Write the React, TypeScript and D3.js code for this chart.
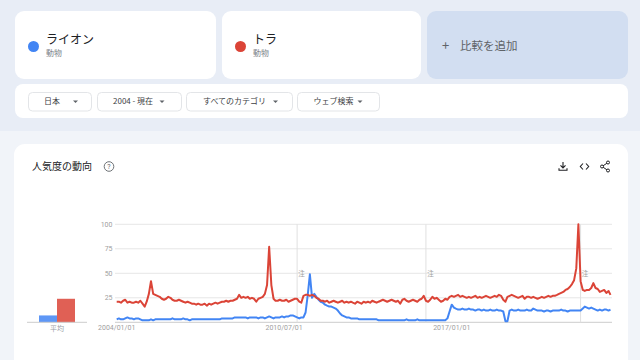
import React from 'react';
import * as d3 from 'd3';

// ---------- data ----------
const termNames = ['ライオン', 'トラ'];
const termCategory = ['動物', '動物'];
const seriesColors = ['#4285f4', '#db4437'];
const filterLabels = ['日本', '2004 - 現在', 'すべてのカテゴリ', 'ウェブ検索'];
const addLabel = '比較を追加';
const titleLabel = '人気度の動向';
const avgLabel = '平均';
const noteLabel = '注';
const yTickValues = [25, 50, 75, 100];
const xTickDates = ['2004-01-01', '2010-07-01', '2017-01-01'];
const xTickLabels = ['2004/01/01', '2010/07/01', '2017/01/01'];
const noteDates = ['2011-01-01', '2016-01-01', '2022-01-01'];
const startDate = '2004-01-01';

// monthly values, 2004-01 .. 2023-03
const lionValues = [
  3, 4, 3, 3, 4, 5, 4, 4, 3, 4, 4, 3,
  2, 2, 2, 2, 3, 2, 3, 3, 3, 3, 3, 3,
  3, 3, 4, 3, 3, 3, 3, 4, 3, 3, 2, 3,
  3, 3, 3, 3, 3, 3, 3, 3, 3, 3, 3, 3,
  3, 4, 4, 4, 4, 4, 4, 5, 5, 5, 5, 5,
  5, 4, 5, 5, 5, 5, 4, 5, 5, 4, 5, 6,
  5, 4, 5, 5, 5, 6, 5, 6, 6, 7, 7, 6,
  5, 4, 5, 5, 10, 28, 49, 25, 29, 26, 23, 21,
  20, 18, 17, 16, 16, 15, 14, 12, 9, 7, 6, 5,
  5, 4, 4, 4, 4, 3, 3, 3, 3, 3, 3, 3,
  3, 3, 2, 2, 2, 2, 2, 2, 2, 2, 2, 2,
  2, 2, 2, 3, 2, 2, 2, 2, 3, 2, 2, 2,
  2, 2, 2, 2, 2, 2, 2, 2, 2, 2, 4, 11,
  18, 15, 14, 13, 13, 14, 13, 13, 14, 13, 13, 12,
  13, 13, 12, 13, 12, 12, 13, 12, 12, 13, 12, 12,
  11, 1, 1, 12, 13, 12, 12, 13, 12, 12, 12, 13,
  12, 12, 14, 13, 12, 12, 12, 11, 12, 12, 11, 12,
  12, 12, 12, 13, 12, 12, 11, 12, 12, 12, 12, 12,
  12, 14, 16, 15, 14, 15, 14, 13, 12, 13, 12, 13,
  13, 12, 13,
];
const tigerValues = [
  21, 21, 20, 22, 23, 20, 21, 20, 20, 21, 20, 22,
  19, 16, 21, 29, 42, 29, 28, 27, 26, 24, 23, 24,
  26, 25, 23, 22, 22, 23, 22, 21, 20, 21, 20, 19,
  19, 18, 19, 18, 18, 19, 17, 19, 18, 19, 20, 19,
  20, 21, 21, 22, 21, 22, 22, 23, 24, 28, 25, 26,
  25, 26, 24, 25, 24, 21, 24, 25, 26, 29, 38, 77,
  38, 24, 22, 22, 23, 22, 22, 23, 21, 22, 23, 24,
  24, 21, 20, 27, 28, 28, 27, 28, 27, 25, 24, 22,
  22, 21, 22, 20, 21, 22, 21, 20, 21, 22, 20, 21,
  20, 21, 20, 19, 21, 20, 19, 21, 20, 21, 20, 22,
  21, 20, 21, 22, 23, 22, 21, 22, 23, 22, 21, 22,
  19, 23, 24, 22, 21, 22, 23, 22, 21, 23, 24, 27,
  22, 21, 23, 26, 24, 25, 23, 21, 22, 24, 23, 26,
  27, 26, 27, 28, 26, 27, 26, 25, 26, 25, 26, 27,
  25, 26, 25, 26, 27, 26, 25, 26, 27, 26, 28, 27,
  23, 21, 26, 27, 28, 27, 26, 25, 26, 27, 24, 26,
  26, 25, 26, 25, 24, 25, 26, 25, 26, 27, 26, 27,
  27, 28, 29, 30, 31, 33, 34, 36, 39, 43, 55, 100,
  42, 33, 32, 33, 33, 35, 40, 35, 34, 31, 32, 33,
  30, 32, 28,
];
const averageValues = [7, 24];

// ---------- layout ----------
const W = 640;
const H = 360;
const plot = { left: 116.7, right: 610.5, top: 224.3, bottom: 322.3, gridLeft: 115, gridRight: 612 };
const avgPlot = { left: 39, right: 75, lineLeft: 27, lineRight: 87 };
const termCards = [
  { x: 15, w: 201 },
  { x: 222, w: 199 },
];
const filterBoxes = [
  { x: 28, w: 63, tx: 44, ax: 75.5 },
  { x: 97, w: 84, tx: 113, ax: 162 },
  { x: 186, w: 106, tx: 203, ax: 275.5 },
  { x: 297, w: 82, tx: 313.5, ax: 360 },
];

const FONT = '"Noto Sans CJK JP", Roboto, "Noto Sans", sans-serif';

export default function App() {
  const parse = d3.timeParse('%Y-%m-%d');
  const start = parse(startDate) as Date;
  const n = lionValues.length;
  const dates = d3.range(n).map((i) => d3.timeMonth.offset(start, i));

  const x = d3.scaleTime().domain([dates[0], dates[n - 1]]).range([plot.left, plot.right]);
  const y = d3.scaleLinear().domain([0, 100]).range([plot.bottom, plot.top]);
  const xb = d3
    .scaleBand<number>()
    .domain(averageValues.map((_, i) => i))
    .range([avgPlot.left, avgPlot.right])
    .padding(0);

  const line = d3
    .line<number>()
    .x((_, i) => x(dates[i]))
    .y((d) => y(d))
    .curve(d3.curveLinear);

  const series = [lionValues, tigerValues];

  return (
    <svg
      width={W}
      height={H}
      style={{ position: 'fixed', left: 0, top: 0, fontFamily: FONT }}
    >
      <rect x={0} y={0} width={W} height={H} fill="#f1f4f9" />
      <rect x={0} y={0} width={W} height={131} fill="#e8edf6" />

      {/* term cards */}
      {termCards.map((c, i) => (
        <g key={i}>
          <rect x={c.x} y={11} width={c.w} height={68} rx={9} fill="#ffffff" />
          <circle cx={c.x + 18.5} cy={46.5} r={5.5} fill={seriesColors[i]} />
          <text x={c.x + 31} y={43.5} fontSize={12} fill="#202124">
            {termNames[i]}
          </text>
          <text x={c.x + 31} y={56} fontSize={8} fill="#80868b">
            {termCategory[i]}
          </text>
        </g>
      ))}
      <rect x={427} y={11} width={201} height={68} rx={9} fill="#d2def1" />
      <text x={445.5} y={50} fontSize={13} fill="#5f6368" textAnchor="middle">
        +
      </text>
      <text x={460} y={49.5} fontSize={11.5} fill="#5f6368">
        {addLabel}
      </text>

      {/* filter bar */}
      <rect x={15} y={84} width={613} height={34} rx={8} fill="#ffffff" />
      {filterBoxes.map((b, i) => (
        <g key={i}>
          <rect
            x={b.x + 0.5}
            y={92.5}
            width={b.w}
            height={18.5}
            rx={4}
            fill="#ffffff"
            stroke="#e3e5e8"
          />
          <text x={b.tx} y={104.3} fontSize={8} fill="#3c4043">
            {filterLabels[i]}
          </text>
          <path
            d={`M${b.ax - 2.5},${100.5} L${b.ax + 2.5},${100.5} L${b.ax},${103} Z`}
            fill="#5f6368"
          />
        </g>
      ))}

      {/* chart card */}
      <rect x={14} y={144} width={614} height={240} rx={11} fill="#ffffff" />
      <text x={32} y={170} fontSize={10} fill="#202124">
        {titleLabel}
      </text>
      <g transform="translate(109,166.5)" stroke="#5f6368" fill="none">
        <circle r={4.8} strokeWidth={0.9} />
        <text
          x={0}
          y={2.6}
          fontSize={7}
          textAnchor="middle"
          fill="#5f6368"
          stroke="none"
          fontFamily="Roboto"
        >
          ?
        </text>
      </g>
      {/* icons */}
      <g transform="translate(563,166.5)" stroke="#202124" strokeWidth={1.1} fill="none">
        <path d="M0,-4.5 V1.2 M-2.5,-1.2 L0,1.4 L2.5,-1.2" />
        <path d="M-4,1.8 V3.8 H4 V1.8" />
      </g>
      <g transform="translate(584.5,166.5)" stroke="#202124" strokeWidth={1.1} fill="none">
        <path d="M-1.5,-3 L-4.2,0 L-1.5,3 M1.5,-3 L4.2,0 L1.5,3" />
      </g>
      <g transform="translate(605,166.5)" fill="#ffffff" stroke="#202124" strokeWidth={1}>
        <path d="M3,-4 L-3,0 L3,4" fill="none" />
        <circle cx={3} cy={-4} r={1.5} />
        <circle cx={-3} cy={0} r={1.5} />
        <circle cx={3} cy={4} r={1.5} />
      </g>

      {/* average bars */}
      {averageValues.map((v, i) => (
        <rect
          key={i}
          x={xb(i)}
          y={y(v)}
          width={xb.bandwidth()}
          height={y(0) - y(v)}
          fill={seriesColors[i]}
          opacity={0.85}
        />
      ))}
      <line
        x1={avgPlot.lineLeft}
        x2={avgPlot.lineRight}
        y1={y(0)}
        y2={y(0)}
        stroke="#cccccc"
        strokeWidth={1}
      />
      <text
        x={(avgPlot.left + avgPlot.right) / 2}
        y={331}
        fontSize={7}
        fill="#9aa0a6"
        textAnchor="middle"
      >
        {avgLabel}
      </text>

      {/* gridlines */}
      {yTickValues.map((t) => (
        <g key={t}>
          <line
            x1={plot.gridLeft}
            x2={plot.gridRight}
            y1={y(t)}
            y2={y(t)}
            stroke="#e6e6e6"
            strokeWidth={1}
          />
          <text
            x={112.5}
            y={y(t) + 2.5}
            fontSize={7}
            fill="#a0a0a0"
            textAnchor="end"
            fontFamily="Roboto, sans-serif"
          >
            {t}
          </text>
        </g>
      ))}
      <line
        x1={plot.gridLeft}
        x2={plot.gridRight}
        y1={y(0)}
        y2={y(0)}
        stroke="#cccccc"
        strokeWidth={1}
      />

      {/* note lines */}
      {noteDates.map((d) => {
        const xx = x(parse(d) as Date);
        return (
          <g key={d}>
            <line x1={xx} x2={xx} y1={y(100)} y2={y(0)} stroke="#e0e0e0" strokeWidth={1} />
            <text x={xx + 1.2} y={y(50) + 3} fontSize={6.5} fill="#9e9e9e">
              {noteLabel}
            </text>
          </g>
        );
      })}

      {/* x tick labels */}
      {xTickDates.map((d, i) => (
        <text
          key={d}
          x={x(parse(d) as Date)}
          y={330}
          fontSize={7}
          fill="#a0a0a0"
          textAnchor="middle"
          fontFamily="Roboto, sans-serif"
        >
          {xTickLabels[i]}
        </text>
      ))}

      {/* lines */}
      {series.map((s, i) => (
        <path
          key={i}
          d={line(s) || ''}
          fill="none"
          stroke={seriesColors[i]}
          strokeWidth={2}
          strokeLinejoin="round"
        />
      ))}
    </svg>
  );
}
